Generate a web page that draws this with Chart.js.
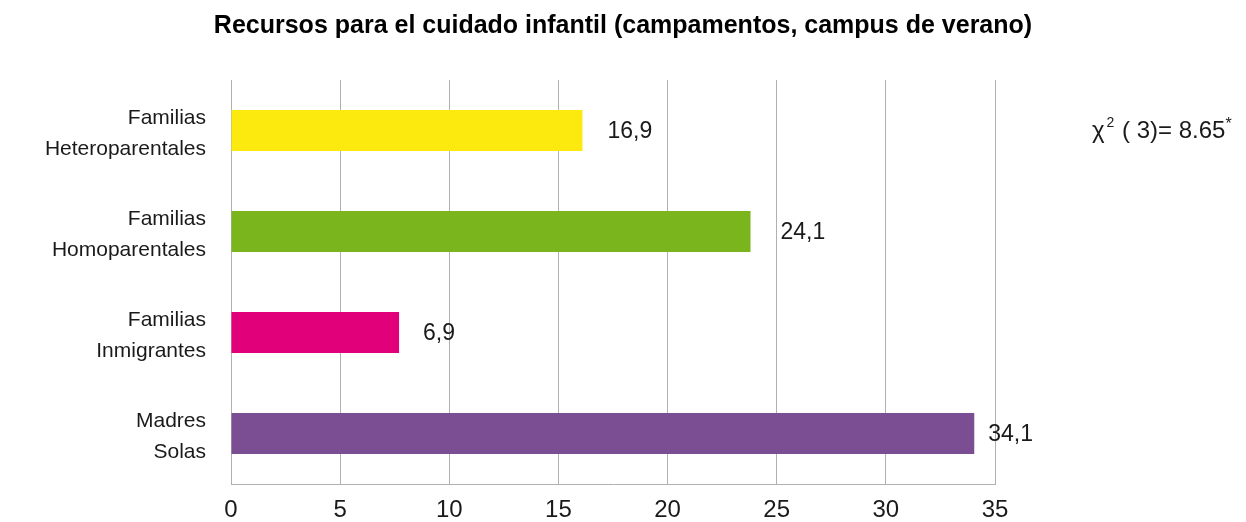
<!DOCTYPE html>
<html>
<head>
<meta charset="utf-8">
<script src="https://cdn.jsdelivr.net/npm/chart.js@4.4.1/dist/chart.umd.min.js"></script>
<style>
  html, body { margin: 0; padding: 0; background: #ffffff; }
  #wrap { width: 1246px; height: 522px; position: relative; }
</style>
</head>
<body>
<div id="wrap"><canvas id="c" width="1246" height="522"></canvas></div>
<script>
// ---- Data ----
const categories = [
  ["Familias", "Heteroparentales"],
  ["Familias", "Homoparentales"],
  ["Familias", "Inmigrantes"],
  ["Madres", "Solas"]
];
const barValues = [16.1, 23.8, 7.7, 34.05];
const valueLabels = ["16,9", "24,1", "6,9", "34,1"];
const barColors = ["#FCE90E", "#7AB51E", "#E2007A", "#7B4E94"];
const xTicks = [0, 5, 10, 15, 20, 25, 30, 35];
const titleText = "Recursos para el cuidado infantil (campamentos, campus de verano)";
const statText = { sym: "\u03C7", sup: "2", body: " ( 3)= 8.65", star: "*" };

const FONT = "'Liberation Sans', Arial, sans-serif";
const labelOffsets = [25, 30, 24, 14];

const annotationPlugin = {
  id: 'annotations',
  afterDatasetsDraw(chart) {
    const ctx = chart.ctx;
    const meta = chart.getDatasetMeta(0);
    ctx.save();
    // title
    ctx.font = "bold 25px " + FONT;
    ctx.fillStyle = "#000000";
    ctx.textAlign = "center";
    ctx.textBaseline = "middle";
    ctx.fillText(titleText, 623, 26);
    // value labels
    ctx.font = "23px " + FONT;
    ctx.fillStyle = "#1a1a1a";
    ctx.textAlign = "left";
    meta.data.forEach((bar, i) => {
      ctx.fillText(valueLabels[i], bar.x + labelOffsets[i], bar.y + 1);
    });
    // statistic annotation
    let x = 1092, y = 131;
    ctx.font = "24px " + FONT;
    ctx.fillText(statText.sym, x, y);
    x += ctx.measureText(statText.sym).width + 2;
    ctx.font = "14px " + FONT;
    ctx.fillText(statText.sup, x, y - 8);
    x += ctx.measureText(statText.sup).width + 1;
    ctx.font = "24px " + FONT;
    ctx.fillText(statText.body, x, y);
    x += ctx.measureText(statText.body).width;
    ctx.font = "16px " + FONT;
    ctx.fillText(statText.star, x, y - 6);
    ctx.restore();
  }
};

new Chart(document.getElementById('c'), {
  type: 'bar',
  data: {
    labels: categories,
    datasets: [{
      data: barValues,
      backgroundColor: barColors,
      borderWidth: 0,
      barPercentage: 0.405,
      categoryPercentage: 1.0
    }]
  },
  options: {
    indexAxis: 'y',
    responsive: false,
    animation: false,
    devicePixelRatio: 1,
    layout: { padding: { left: 0, right: 251, top: 80, bottom: 0 } },
    plugins: {
      legend: { display: false },
      tooltip: { enabled: false },
      title: { display: false }
    },
    scales: {
      x: {
        min: 0,
        max: 35,
        afterBuildTicks(axis) { axis.ticks = xTicks.map(v => ({ value: v })); },
        afterFit(axis) { axis.height = 38; axis.paddingLeft = 0; axis.paddingRight = 0; },
        grid: { color: "#b0b0b0", lineWidth: 1, drawTicks: false },
        border: { display: true, color: "#b0b0b0", width: 1 },
        ticks: {
          color: "#1a1a1a",
          padding: 12,
          font: { family: FONT, size: 24 }
        }
      },
      y: {
        afterFit(axis) { axis.width = 231; axis.paddingTop = 0; axis.paddingBottom = 0; },
        grid: { display: false, drawTicks: false },
        border: { display: false },
        ticks: {
          color: "#1a1a1a",
          padding: 25,
          labelOffset: 3,
          font: { family: FONT, size: 21, lineHeight: 1.476 }
        }
      }
    }
  },
  plugins: [annotationPlugin]
});
</script>
</body>
</html>
